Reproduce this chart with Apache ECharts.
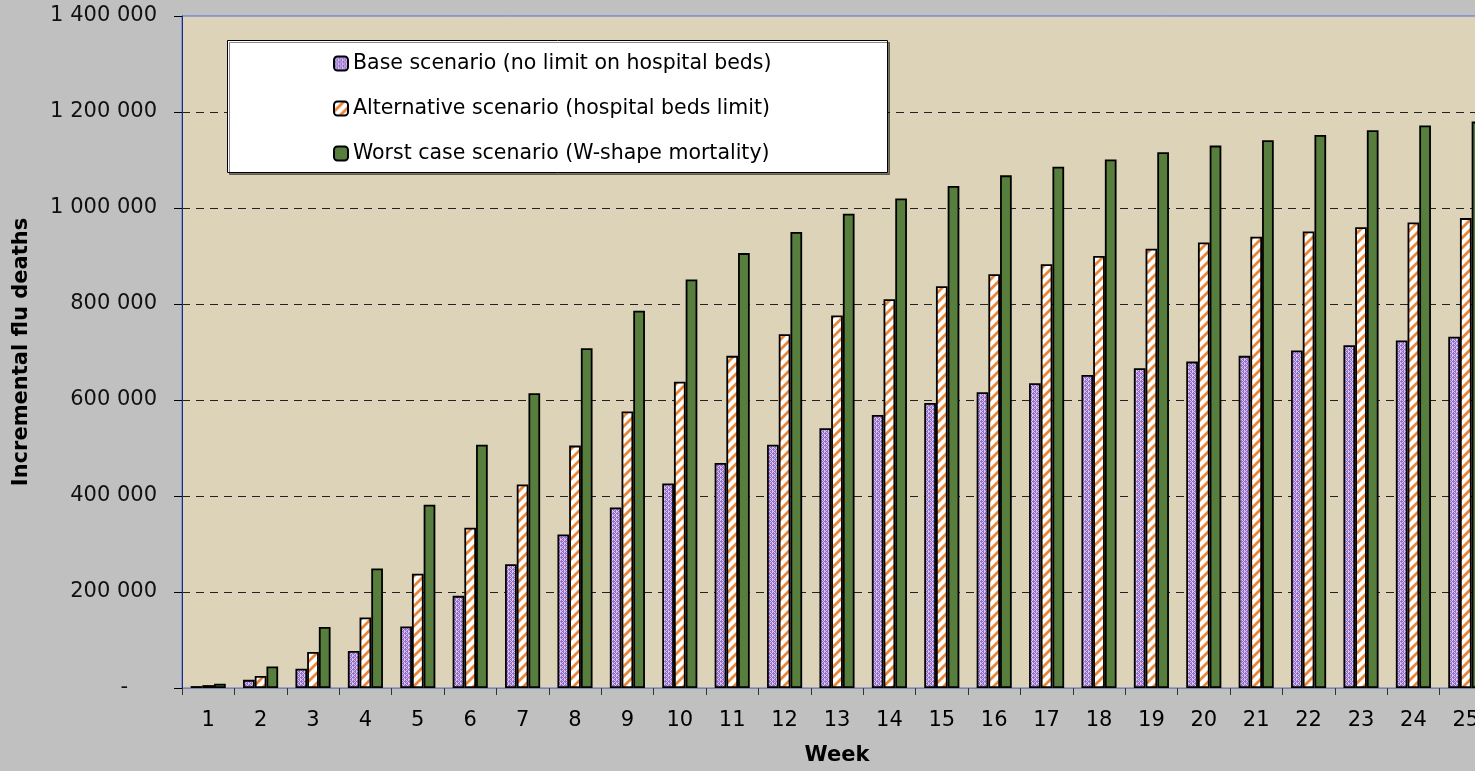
<!DOCTYPE html>
<html><head><meta charset="utf-8">
<script src="https://cdn.jsdelivr.net/npm/echarts@6/dist/echarts.min.js"></script>
<style>html,body{margin:0;padding:0;background:#c0c0c0;overflow:hidden;width:1475px;height:771px;}#c{width:1492px;height:771px;}</style>
</head><body><div id="c"></div>
<script>
const weeks = ['1','2','3','4','5','6','7','8','9','10','11','12','13','14','15','16','17','18','19','20','21','22','23','24','25'];
const baseScenario = [4000,17000,40000,77000,128000,192000,258000,320000,376000,426000,469000,507000,541000,569000,594000,616000,635000,652000,666000,680000,692000,703000,714000,724000,732000];
const altScenario = [6000,25000,75000,147000,238000,334000,424000,505000,576000,638000,692000,737000,776000,810000,837000,862000,883000,900000,915000,928000,940000,951000,960000,970000,979000];
const worstScenario = [9000,45000,127000,249000,382000,507000,614000,708000,786000,851000,906000,950000,988000,1020000,1046000,1068000,1086000,1101000,1116000,1130000,1141000,1152000,1162000,1172000,1180000];
const seriesNames = ['Base scenario (no limit on hospital beds)','Alternative scenario (hospital beds limit)','Worst case scenario (W-shape mortality)'];
const yTicks = {min:0, max:1400000, interval:200000};

function purplePattern(){
  const c=document.createElement('canvas');c.width=4;c.height=4;const g=c.getContext('2d');
  g.fillStyle='#d6c3ee';g.fillRect(0,0,4,4);
  g.fillStyle='#946ec9';
  g.fillRect(1,0,1,1);g.fillRect(0,1,3,1);g.fillRect(1,2,1,1);
  g.fillRect(3,2,1,1);g.fillRect(2,3,2,1);g.fillRect(3,0,1,1);
  return c;
}
function orangePattern(){
  const c=document.createElement('canvas');c.width=10;c.height=10;const g=c.getContext('2d');
  g.fillStyle='#ffffff';g.fillRect(0,0,10,10);
  g.strokeStyle='#e8873a';g.lineWidth=2.8;
  g.beginPath();
  g.moveTo(-5,5);g.lineTo(5,-5);
  g.moveTo(0,10);g.lineTo(10,0);
  g.moveTo(5,15);g.lineTo(15,5);
  g.stroke();
  return c;
}
const FONT='DejaVu Sans';
const chart=echarts.init(document.getElementById('c'),null,{renderer:'canvas'});
function fmt(v){
  if(v===0) return '{z|-}';
  return String(v).replace(/\B(?=(\d{3})+(?!\d))/g,' ');
}
const border={borderColor:'#000',borderWidth:1.8};
chart.setOption({
  backgroundColor:'#c0c0c0',
  animation:false,
  textStyle:{fontFamily:FONT},
  grid:{left:182,top:16,right:0,bottom:81,show:true,backgroundColor:'#ddd3b9',borderColor:'#4f6fe0',borderWidth:1},
  graphic:[{type:'rect',z:3,shape:{x:227.5,y:40.5,width:660,height:132},
    style:{fill:'#ffffff',stroke:'#000',lineWidth:1,shadowColor:'rgba(0,0,0,0.45)',shadowOffsetX:2,shadowOffsetY:2,shadowBlur:0}}],
  legend:{orient:'vertical',left:333,top:53,z:10,itemWidth:14,itemHeight:14,itemGap:24,
    padding:0,textStyle:{fontFamily:FONT,fontSize:20.5,color:'#000',lineHeight:20},data:seriesNames,selectedMode:false},
  xAxis:{type:'category',data:weeks,
    name:'Week',nameLocation:'middle',nameGap:57,
    nameTextStyle:{fontFamily:FONT,fontWeight:'bold',fontSize:21,color:'#000'},
    axisLine:{lineStyle:{color:'#7c86a8',width:1}},
    axisTick:{show:true,alignWithLabel:false,length:7,lineStyle:{color:'#333'}},
    axisLabel:{fontFamily:FONT,fontSize:21,color:'#000',margin:22}},
  yAxis:{type:'value',min:yTicks.min,max:yTicks.max,interval:yTicks.interval,
    name:'Incremental flu deaths',nameLocation:'middle',nameGap:150,nameRotate:90,
    nameTextStyle:{fontFamily:FONT,fontWeight:'bold',fontSize:21,color:'#000'},
    axisLine:{show:true,lineStyle:{color:'#1c2a8c',width:1}},
    axisTick:{show:true,length:8,lineStyle:{color:'#000'}},
    axisLabel:{fontFamily:FONT,fontSize:21,color:'#111',margin:25,formatter:fmt,
      rich:{z:{fontFamily:FONT,fontSize:21,color:'#111',padding:[0,29,0,0]}}},
    splitLine:{show:true,showMinLine:false,showMaxLine:false,lineStyle:{color:'#222',type:[8,6],width:1}}},
  series:[
    {name:seriesNames[0],type:'bar',data:baseScenario,barGap:'0%',barCategoryGap:'33%',
      itemStyle:Object.assign({color:{image:purplePattern(),repeat:'repeat'}},border)},
    {name:seriesNames[1],type:'bar',data:altScenario,barGap:'0%',barCategoryGap:'33%',
      itemStyle:Object.assign({color:{image:orangePattern(),repeat:'repeat'}},border)},
    {name:seriesNames[2],type:'bar',data:worstScenario,barGap:'0%',barCategoryGap:'33%',
      itemStyle:Object.assign({color:'#577e3c'},border)}
  ]
});
</script></body></html>
